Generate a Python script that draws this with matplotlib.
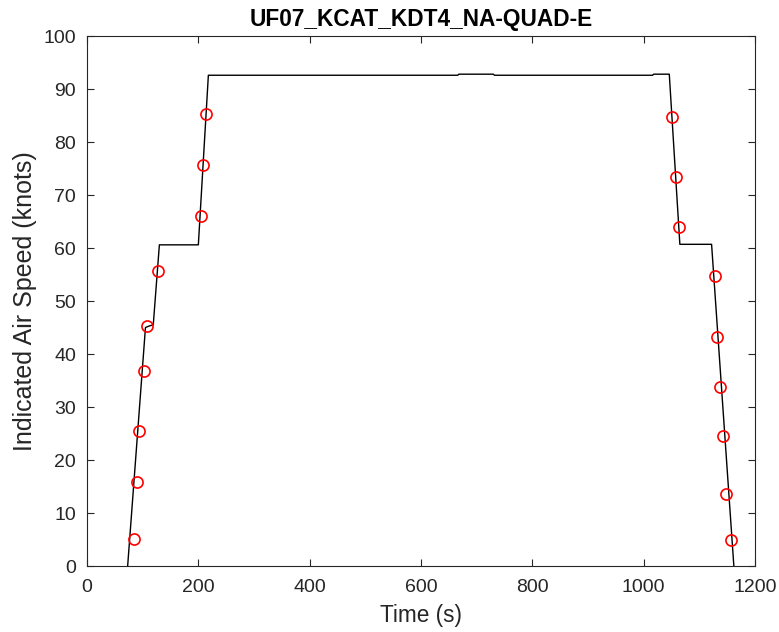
import numpy as np
import matplotlib.pyplot as plt

plt.rcParams['font.family'] = ['Liberation Sans', 'DejaVu Sans']

# airspeed trace (s, knots)
time_s = [73, 105, 112, 119, 130, 200, 218, 666, 668, 730, 732, 1016, 1018, 1046, 1065, 1122, 1162]
ias_kt = [0, 45.0, 45.3, 45.5, 60.6, 60.6, 92.6, 92.6, 92.8, 92.8, 92.6, 92.6, 92.8, 92.8, 60.7, 60.7, 0]

# marked test points
pt_time = [84.4, 90.3, 94.0, 102.3, 108.3, 127.0, 204.0, 208.3, 213.0,
           1051.5, 1057.4, 1062.8, 1127.5, 1132.3, 1137.6, 1143.0, 1148.4, 1156.0]
pt_ias = [5.1, 15.9, 25.5, 36.8, 45.2, 55.7, 66.0, 75.7, 85.2,
          84.8, 73.4, 64.0, 54.7, 43.3, 33.8, 24.5, 13.6, 5.0]

axcol = '#262626'

fig = plt.figure(figsize=(7.79, 6.32), dpi=100)
ax = fig.add_axes([0.1117, 0.1044, 0.8575, 0.8386])

ax.plot(time_s, ias_kt, c='k', lw=1.0)
ax.plot(pt_time, pt_ias, 'o', mfc='none', mec='r', ms=8, mew=1.2)

ax.set_xlim(0, 1200)
ax.set_ylim(0, 100)
ax.set_xticks(np.arange(0, 1201, 200))
ax.set_yticks(np.arange(0, 101, 10))

ax.tick_params(direction='in', top=True, right=True, length=5, width=0.8,
               colors=axcol, labelsize=14)
ax.tick_params(axis='x', pad=9)
ax.tick_params(axis='y', pad=8)
for s in ax.spines.values():
    s.set_color(axcol)
    s.set_linewidth(0.8)

ax.set_xlabel('Time (s)', fontsize=16.3, color=axcol)
ax.set_ylabel('Indicated Air Speed (knots)', fontsize=18, color=axcol)
ax.xaxis.set_label_coords(0.5, -0.072)
ax.yaxis.set_label_coords(-0.075, 0.5)
ax.set_title('UF07_KCAT_KDT4_NA-QUAD-E', fontsize=16.3, fontweight='bold', color='k', pad=7)

plt.savefig('out.png', dpi=100)
